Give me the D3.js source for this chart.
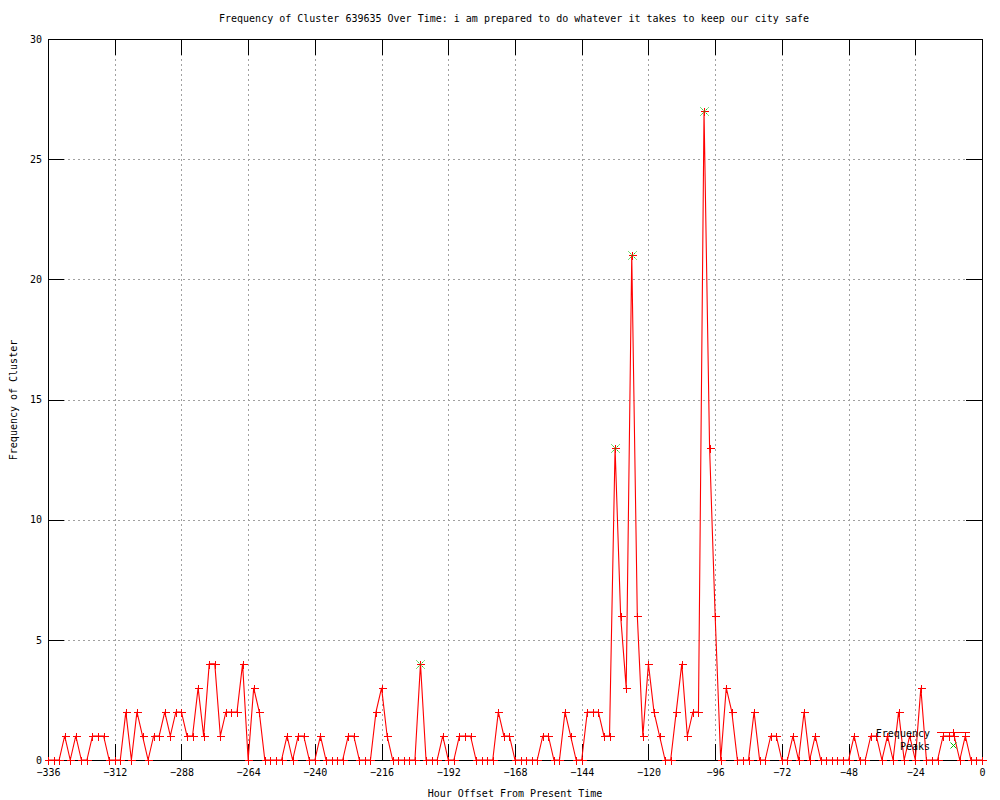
<!DOCTYPE html>
<html>
<head>
<meta charset="utf-8">
<script src="https://cdn.jsdelivr.net/npm/d3@7"></script>
<style>
  html, body { margin: 0; padding: 0; background: #fff; }
  svg text { font-family: "DejaVu Sans Mono", monospace; font-size: 10px; fill: #000; }
</style>
</head>
<body>
<svg id="chart" width="1000" height="800"></svg>
<script>
// ---- data ----
const titleText = "Frequency of Cluster 639635 Over Time: i am prepared to do whatever it takes to keep our city safe";
const xLabel = "Hour Offset From Present Time";
const yLabel = "Frequency of Cluster";
const hours = d3.range(-336, 1, 2);
const frequency = [
  0,0,0,1,0,1,0,0,1,1, 1,0,0,0,2,0,2,1,0,1,
  1,2,1,2,2,1,1,3,1,4, 4,1,2,2,2,4,0,3,2,0,
  0,0,0,1,0,1,1,0,0,1, 0,0,0,0,1,1,0,0,0,2,
  3,1,0,0,0,0,0,4,0,0, 0,1,0,0,1,1,1,0,0,0,
  0,2,1,1,0,0,0,0,0,1, 1,0,0,2,1,0,0,2,2,2,
  1,1,13,6,3,21,6,1,4,2, 1,0,0,2,4,1,2,2,27,13,
  6,0,3,2,0,0,0,2,0,0, 1,1,0,0,1,0,2,0,1,0,
  0,0,0,0,0,1,0,0,1,1, 0,1,0,2,0,1,0,3,0,0,
  0,1,1,1,0,1,0,0,0
];
const peakHours = [-202, -132, -126, -100];
const peakValues = [4, 13, 21, 27];
const xTicks = d3.range(-336, 1, 24);
const yTicks = [0, 5, 10, 15, 20, 25, 30];
const legendLabels = ["Frequency", "Peaks"];

// ---- layout ----
const L = 48, R = 982, T = 39, B = 760;
const svg = d3.select("#chart");
const x = d3.scaleLinear().domain([-336, 0]).range([L, R]);
const y = d3.scaleLinear().domain([0, 30]).range([B, T]);

const data = hours.map((h, i) => ({h, v: frequency[i]}));
const peaks = peakHours.map((h, i) => ({h, v: peakValues[i]}));

// grid
const grid = svg.append("g").attr("stroke", "#a0a0a0").attr("stroke-dasharray", "2,3")
  .attr("shape-rendering", "crispEdges");
grid.selectAll(".gx").data(xTicks.filter(t => t > -336 && t < 0)).enter().append("line")
  .attr("x1", d => Math.round(x(d)) + 0.5).attr("x2", d => Math.round(x(d)) + 0.5)
  .attr("y1", T).attr("y2", B);
grid.selectAll(".gy").data(yTicks.filter(t => t > 0 && t < 30)).enter().append("line")
  .attr("y1", d => Math.round(y(d)) + 0.5).attr("y2", d => Math.round(y(d)) + 0.5)
  .attr("x1", L).attr("x2", R);

// axes
function styleAxis(g) {
  g.select(".domain").remove();
  g.selectAll(".tick line").attr("stroke", "#000").attr("shape-rendering", "crispEdges");
  g.selectAll("text").attr("font-family", "DejaVu Sans Mono").attr("font-size", 10);
}
svg.append("g").attr("transform", `translate(0,${B})`)
  .call(d3.axisBottom(x).tickValues(xTicks).tickSize(-16).tickPadding(9).tickFormat(d3.format("d")))
  .call(styleAxis);
svg.append("g").attr("transform", `translate(0,${T})`)
  .call(d3.axisTop(x).tickValues(xTicks).tickSize(-16).tickFormat(""))
  .call(styleAxis);
svg.append("g").attr("transform", `translate(${L},0)`)
  .call(d3.axisLeft(y).tickValues(yTicks).tickSize(-16).tickPadding(6).tickFormat(d3.format("d")))
  .call(styleAxis);
svg.append("g").attr("transform", `translate(${R},0)`)
  .call(d3.axisRight(y).tickValues(yTicks).tickSize(-16).tickFormat(""))
  .call(styleAxis);

// frame
svg.append("rect").attr("x", L + 0.5).attr("y", T + 0.5).attr("width", R - L).attr("height", B - T)
  .attr("fill", "none").attr("stroke", "#000").attr("shape-rendering", "crispEdges");

// frequency line
const line = d3.line().x(d => x(d.h)).y(d => y(d.v));
svg.append("path").datum(data).attr("d", line)
  .attr("fill", "none").attr("stroke", "#ff0000").attr("stroke-width", 1.1);

const plusPath = "M-4,0H4M0,-4V4";
const crossPath = "M-4,-4L4,4M-4,4L4,-4";
svg.append("g").selectAll("path").data(data).enter().append("path")
  .attr("transform", d => `translate(${Math.round(x(d.h)) + 0.5},${Math.round(y(d.v)) + 0.5})`)
  .attr("d", plusPath).attr("stroke", "#ff0000").attr("fill", "none").attr("shape-rendering", "crispEdges");

// peaks
svg.append("g").selectAll("path").data(peaks).enter().append("path")
  .attr("transform", d => `translate(${Math.round(x(d.h)) + 0.5},${Math.round(y(d.v)) + 0.5})`)
  .attr("d", crossPath).attr("stroke", "#00c000").attr("fill", "none")
  .attr("stroke-dasharray", "1.5,1");

// legend
const lg = svg.append("g");
lg.append("text").attr("x", 930).attr("y", 737).attr("text-anchor", "end").text(legendLabels[0]);
lg.append("line").attr("x1", 937).attr("x2", 970).attr("y1", 732.5).attr("y2", 732.5)
  .attr("stroke", "#ff0000").attr("shape-rendering", "crispEdges");
lg.append("path").attr("transform", "translate(953.5,732.5)").attr("d", plusPath)
  .attr("stroke", "#ff0000").attr("fill", "none").attr("shape-rendering", "crispEdges");
lg.append("text").attr("x", 930).attr("y", 750).attr("text-anchor", "end").text(legendLabels[1]);
lg.append("path").attr("transform", "translate(953.5,745.5)").attr("d", "M-3,-3L3,3M-3,3L3,-3")
  .attr("stroke", "#00c000").attr("fill", "none");

// titles
svg.append("text").attr("x", 514).attr("y", 22).attr("text-anchor", "middle").text(titleText);
svg.append("text").attr("x", 515).attr("y", 797).attr("text-anchor", "middle").text(xLabel);
svg.append("text").attr("transform", "translate(17,400) rotate(-90)").attr("text-anchor", "middle").text(yLabel);
</script>
</body>
</html>
